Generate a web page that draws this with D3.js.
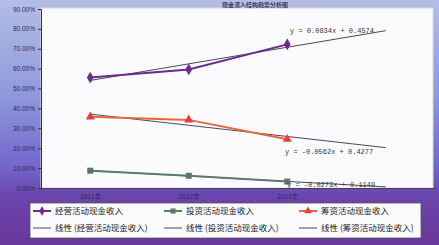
<!DOCTYPE html>
<html><head><meta charset="utf-8">
<script src="https://cdn.jsdelivr.net/npm/d3@7"></script>
<style>html,body{margin:0;padding:0;overflow:hidden;background:#fff}</style>
</head><body>
<script>
const periods = ["2011年", "2012年", "2013年", ""];
const years = ["2011年", "2012年", "2013年"];
const seriesNames = ["经营活动现金收入", "投资活动现金收入", "筹资活动现金收入"];
const operating = [0.555, 0.596, 0.722];
const investing = [0.087, 0.0615, 0.0324];
const financing = [0.358, 0.3425, 0.2456];
const trendSlope = [0.0834, -0.0273, -0.0562];
const trendIntercept = [0.4574, 0.1149, 0.4277];
const trendLabels = ["y = 0.0834x + 0.4574", "y = -0.0273x + 0.1149", "y = -0.0562x + 0.4277"];
const yTicks = [0, 0.1, 0.2, 0.3, 0.4, 0.5, 0.6, 0.7, 0.8, 0.9];

const W = 439, H = 245;
const svg = d3.select("body").append("svg").attr("width", W).attr("height", H);
const defs = svg.append("defs");
const g1 = defs.append("linearGradient").attr("id", "bg").attr("x1", 0).attr("y1", 0).attr("x2", 0).attr("y2", 1);
g1.append("stop").attr("offset", "0%").attr("stop-color", "#b3bde6");
g1.append("stop").attr("offset", "40%").attr("stop-color", "#8d98dc");
g1.append("stop").attr("offset", "68%").attr("stop-color", "#7266cc");
g1.append("stop").attr("offset", "80%").attr("stop-color", "#6a45ad");
g1.append("stop").attr("offset", "100%").attr("stop-color", "#68389a");
svg.append("rect").attr("width", W).attr("height", H).attr("fill", "url(#bg)");

const L = 41, R = 435, T = 9, B = 188;
svg.append("rect").attr("x", L).attr("y", T - 1).attr("width", R - L - 2).attr("height", B - T + 1)
  .attr("fill", "#fbfbfe").attr("stroke", "#d8d8e0").attr("stroke-width", 1);

const x = d3.scalePoint().domain(periods).range([L, R]).padding(0.5);
const y = d3.scaleLinear().domain([0, 0.9]).range([B, T]);

// title
svg.append("text").attr("x", 255).attr("y", 7).attr("text-anchor", "middle")
  .attr("font-family", "Noto Sans CJK SC").attr("font-size", 6).attr("font-weight", "bold")
  .attr("fill", "#3a3f6a").text("现金流入结构趋势分析图");

// y axis
const ya = svg.append("g").attr("transform", `translate(${L},0)`)
  .call(d3.axisLeft(y).tickValues(yTicks).tickSize(3).tickFormat(d => (d * 100).toFixed(2) + "%"));
ya.select(".domain").attr("stroke", "#333");
ya.selectAll(".tick line").attr("stroke", "#333");
ya.selectAll("text").attr("font-family", "Liberation Sans").attr("font-size", 6.5).attr("fill", "#2b2d5a");

// x axis
const xa = svg.append("g").attr("transform", `translate(0,${B})`)
  .call(d3.axisBottom(x).tickSize(0).tickPadding(6));
xa.select(".domain").attr("stroke", "#444");
xa.selectAll("text").attr("font-family", "Noto Sans CJK SC").attr("font-size", 6.5).attr("fill", "#2b2d5a");

// trend lines
trendSlope.forEach((s, i) => {
  const pts = periods.map((p, k) => [x(p), y(s * (k + 1) + trendIntercept[i])]);
  svg.append("path").attr("d", d3.line()(pts)).attr("fill", "none")
    .attr("stroke", "#4a4a55").attr("stroke-width", 1);
});

const colors = ["#6e2a8e", "#5e7a68", "#e8653e"];
const markerCol = ["#6e2a8e", "#587a60", "#e0413a"];
const data = [operating, investing, financing];
const symbols = [d3.symbolDiamond, d3.symbolSquare, d3.symbolTriangle];
data.forEach((vals, i) => {
  const pts = years.map((yr, k) => [x(yr), y(vals[k])]);
  svg.append("path").attr("d", d3.line()(pts)).attr("fill", "none")
    .attr("stroke", colors[i]).attr("stroke-width", 2);
  svg.selectAll(null).data(pts).enter().append("path")
    .attr("transform", d => `translate(${d[0]},${d[1]})`)
    .attr("d", d3.symbol().type(symbols[i]).size(i === 0 ? 40 : 36))
    .attr("fill", markerCol[i]);
});

// equations
const eqPos = [[290, 33], [287, 187], [285, 154]];
trendLabels.forEach((t, i) => {
  svg.append("text").attr("x", eqPos[i][0]).attr("y", eqPos[i][1])
    .attr("font-family", "Liberation Mono").attr("font-size", 7).attr("fill", "#333").text(t);
});

// legend
svg.append("rect").attr("x", 30).attr("y", 203).attr("width", 391).attr("height", 35)
  .attr("fill", "#fbfbfd").attr("stroke", "#555").attr("stroke-width", 0.8);
const colX = [33, 164, 299];
seriesNames.forEach((n, i) => {
  const lx = colX[i];
  svg.append("line").attr("x1", lx).attr("x2", lx + 18).attr("y1", 211).attr("y2", 211)
    .attr("stroke", colors[i]).attr("stroke-width", 2);
  svg.append("path").attr("transform", `translate(${lx + 9},211)`)
    .attr("d", d3.symbol().type(symbols[i]).size(26)).attr("fill", markerCol[i]);
  svg.append("text").attr("x", lx + 22).attr("y", 214).attr("font-family", "Noto Sans CJK SC")
    .attr("font-size", 8.5).attr("fill", "#222").text(n);
  svg.append("line").attr("x1", lx).attr("x2", lx + 18).attr("y1", 228).attr("y2", 228)
    .attr("stroke", "#4a4a55").attr("stroke-width", 1);
  svg.append("text").attr("x", lx + 22).attr("y", 231).attr("font-family", "Noto Sans CJK SC")
    .attr("font-size", 8.5).attr("fill", "#222").text("线性 (" + n + ")");
});
</script>
</body></html>
